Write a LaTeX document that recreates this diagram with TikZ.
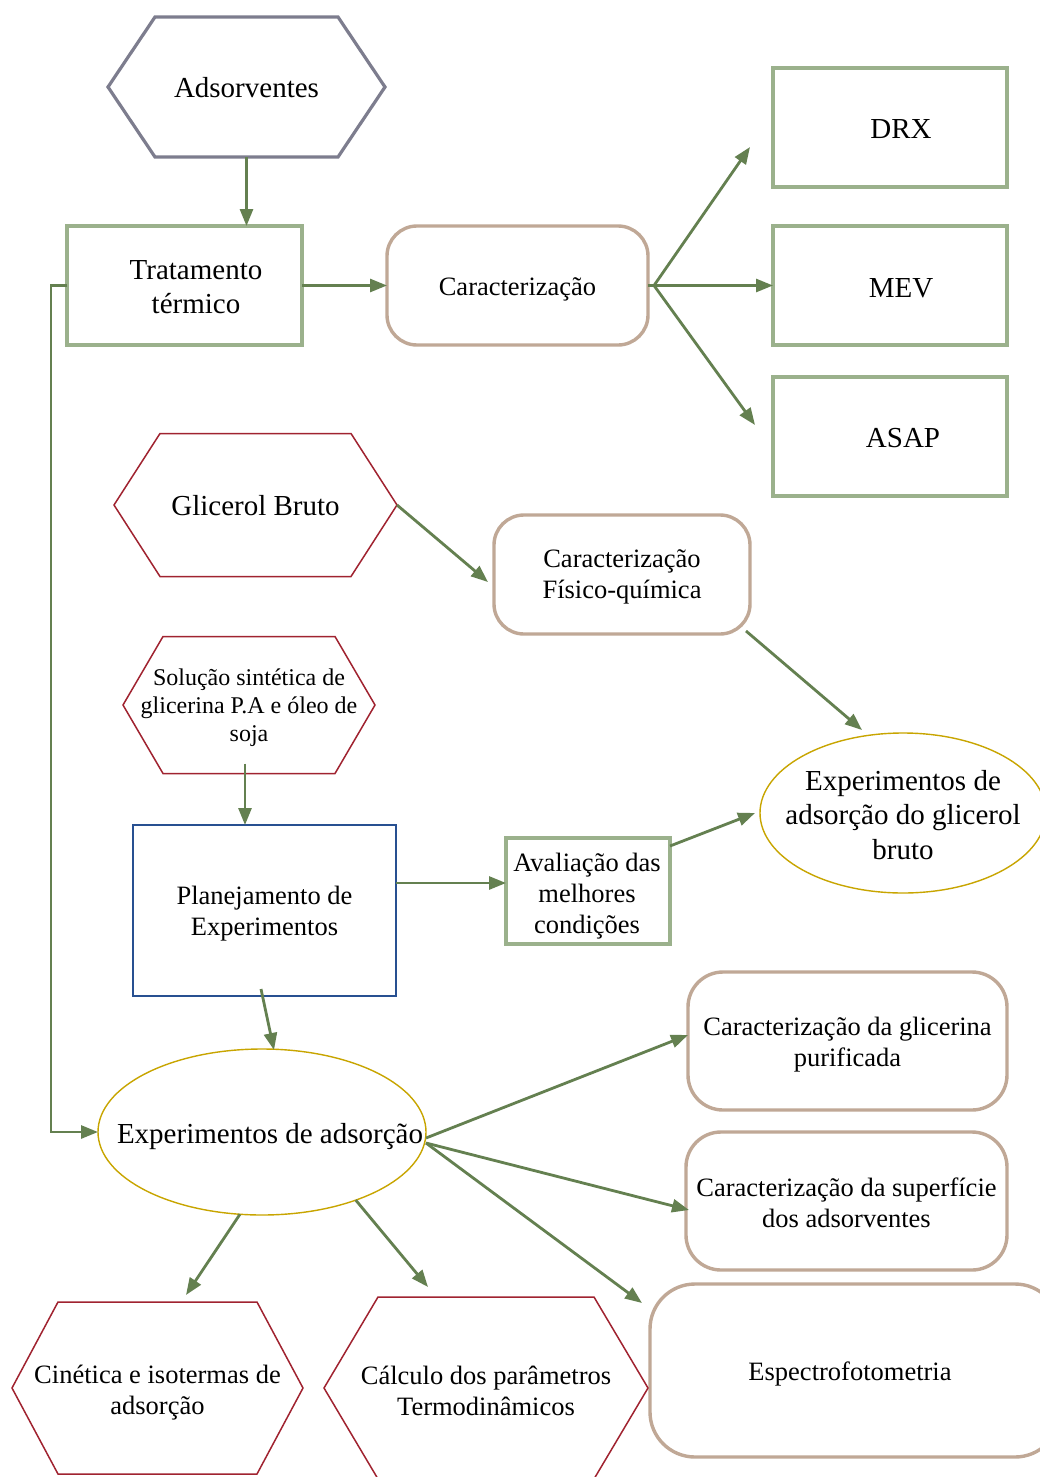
\documentclass[tikz,border=0pt]{standalone}
\usepackage{fontspec}
\setmainfont{Liberation Serif}
\usetikzlibrary{arrows.meta,shapes.geometric}
\definecolor{sage}{RGB}{155,177,140}
\definecolor{tanc}{RGB}{192,168,150}
\definecolor{grayc}{RGB}{125,125,142}
\definecolor{redc}{RGB}{160,35,48}
\definecolor{goldc}{RGB}{200,165,0}
\definecolor{bluec}{RGB}{40,80,145}
\definecolor{arrowc}{RGB}{100,128,80}
\newcommand\bigf{\fontsize{29}{34.5}\selectfont}
\newcommand\medf{\fontsize{26.5}{31}\selectfont}
\newcommand\smf{\fontsize{24}{28}\selectfont}
\newcommand\hexpath[3]{\draw[#3] (#1.west) -- ([xshift=#2]#1.north west) -- ([xshift=-#2]#1.north east) -- (#1.east) -- ([xshift=-#2]#1.south east) -- ([xshift=#2]#1.south west) -- cycle;}
\begin{document}
\begin{tikzpicture}[x=1pt,y=-1pt,
  arr/.style={draw=arrowc, line width=2.8pt, -{Triangle[length=17pt,width=13pt]}},
  ln/.style={draw=arrowc, line width=2.8pt},
  sagebox/.style={draw=sage, line width=3.5pt, inner sep=0pt, outer sep=0pt},
  tanbox/.style={draw=tanc, line width=3.4pt, inner sep=0pt, outer sep=0pt, rounded corners=#1},
  tanbox/.default=30pt,
  hexnode/.style={inner sep=0pt, outer sep=0pt},
  ellnode/.style={ellipse, draw=goldc, line width=1.4pt, inner sep=0pt, outer sep=0pt},
  txt/.style={align=center, inner sep=0pt}
]
\clip (0,0) rectangle (1040,1477);
\fill[white] (0,0) rectangle (1040,1477);

% top
\node[hexnode, minimum width=277, minimum height=140] (ads) at (246.5,87) {};
\hexpath{ads}{47}{draw=grayc, line width=3.2pt}
\node[txt, font=\bigf] at (246.5,88) {Adsorventes};

\node[sagebox, minimum width=235, minimum height=119] (trat) at (184.5,285.5) {};
\node[txt, font=\bigf] at (196,287) {Tratamento\\térmico};

\node[tanbox=30pt, minimum width=261, minimum height=119] (car) at (517.5,285.5) {};
\node[txt, font=\medf] at (517.5,289) {Caracterização};

\node[sagebox, minimum width=234, minimum height=119] (drx) at (890,127.5) {};
\node[txt, font=\bigf] at (901,129) {DRX};
\node[sagebox, minimum width=234, minimum height=119] (mev) at (890,285.5) {};
\node[txt, font=\bigf] at (901,288) {MEV};
\node[sagebox, minimum width=234, minimum height=119] (asap) at (890,436.5) {};
\node[txt, font=\bigf] at (903,438) {ASAP};

% middle
\node[hexnode, minimum width=283, minimum height=143] (glic) at (255.5,505) {};
\hexpath{glic}{46}{draw=redc, line width=1.5pt}
\node[txt, font=\bigf] at (255.5,506) {Glicerol Bruto};

\node[tanbox=30pt, minimum width=256, minimum height=119] (fq) at (622,574.5) {};
\node[txt, font=\medf] at (622,577) {Caracterização\\Físico-química};

\node[ellnode, minimum width=286, minimum height=160] (expg) at (903,813) {};
\node[txt, font=\bigf] at (903,815) {Experimentos de\\adsorção do glicerol\\bruto};

\node[hexnode, minimum width=252, minimum height=137] (sol) at (249,705) {};
\hexpath{sol}{40}{draw=redc, line width=1.5pt}
\node[txt, font=\smf] at (249,708) {Solução sintética de\\glicerina P.A e óleo de\\soja};

\node[draw=bluec, line width=1.6pt, inner sep=0pt, outer sep=0pt, minimum width=263, minimum height=171] (plan) at (264.5,910.5) {};
\node[txt, font=\medf] at (264.5,913.5) {Planejamento de\\Experimentos};

\node[sagebox, minimum width=164, minimum height=106] (aval) at (588,891) {};
\node[txt, font=\medf] at (587,896) {Avaliação das\\melhores\\condições};

% bottom
\node[ellnode, minimum width=328, minimum height=166] (exp) at (262,1132) {};
\node[txt, font=\bigf] at (270,1137) {Experimentos de adsorção};

\node[tanbox=35pt, minimum width=319, minimum height=138] (gly) at (847.5,1041) {};
\node[txt, font=\medf] at (847.5,1045) {Caracterização da glicerina\\purificada};
\node[tanbox=35pt, minimum width=321, minimum height=138] (sup) at (846.5,1201) {};
\node[txt, font=\medf] at (846.5,1202.5) {Caracterização da superfície\\dos adsorventes};
\node[tanbox=45pt, minimum width=410, minimum height=173] (esp) at (855,1370.5) {};
\node[txt, font=\medf] at (850,1374) {Espectrofotometria};

\node[hexnode, minimum width=291, minimum height=172] (cin) at (157.5,1388) {};
\hexpath{cin}{46}{draw=redc, line width=1.5pt}
\node[txt, font=\medf] at (157.5,1393) {Cinética e isotermas de\\adsorção};
\node[hexnode, minimum width=324, minimum height=182] (cal) at (486,1388) {};
\hexpath{cal}{54}{draw=redc, line width=1.5pt}
\node[txt, font=\medf] at (486,1391) {Cálculo dos parâmetros\\Termodinâmicos};

% connectors
\draw[arr] (ads.south) -- (ads.south |- trat.north);
\draw[arr] (trat.east) -- (car.west);
\coordinate (fan) at ([shift={(6,0)}]car.east);
\draw[ln] (car.east) -- (fan);
\draw[arr] (fan) -- ([shift={(-23,19.5)}]drx.west);
\draw[arr] (fan) -- (mev.west);
\draw[arr] (fan) -- ([shift={(-18,-11.5)}]asap.west);
\draw[arr] (glic.east) -- ([shift={(-6,7.5)}]fq.west);
\draw[arr] ([shift={(-4,-3)}]fq.south east) -- ([shift={(-41,-3)}]expg.north);
\draw[arr] ([shift={(-4,-10)}]sol.south) -- ([xshift=-4pt]sol.south |- plan.north);
\draw[arr] ([shift={(0,-27.5)}]plan.east) -- ([shift={(0,-27.5)}]plan.east -| aval.west);
\draw[arr] ([shift={(0,8)}]aval.north east) -- ([shift={(-5,0)}]expg.west);
\draw[arr] ([shift={(-3.5,-7)}]plan.south) -- ([shift={(12,1)}]exp.north);
\draw[arr] (trat.west) -- ++(-16,0) |- (exp.west);
\draw[arr] ([shift={(0,6)}]exp.east) -- ([shift={(0,-6)}]gly.west);
\draw[arr] ([shift={(0,11)}]exp.east) -- ([shift={(3,9)}]sup.west);
\draw[arr] ([shift={(0,11)}]exp.east) -- ([shift={(-8,19)}]esp.north west);
\draw[arr] (exp.-105) -- ([shift={(28.5,-7)}]cin.north);
\draw[arr] (exp.-36) -- ([shift={(-58,-10)}]cal.north);
\end{tikzpicture}
\end{document}
